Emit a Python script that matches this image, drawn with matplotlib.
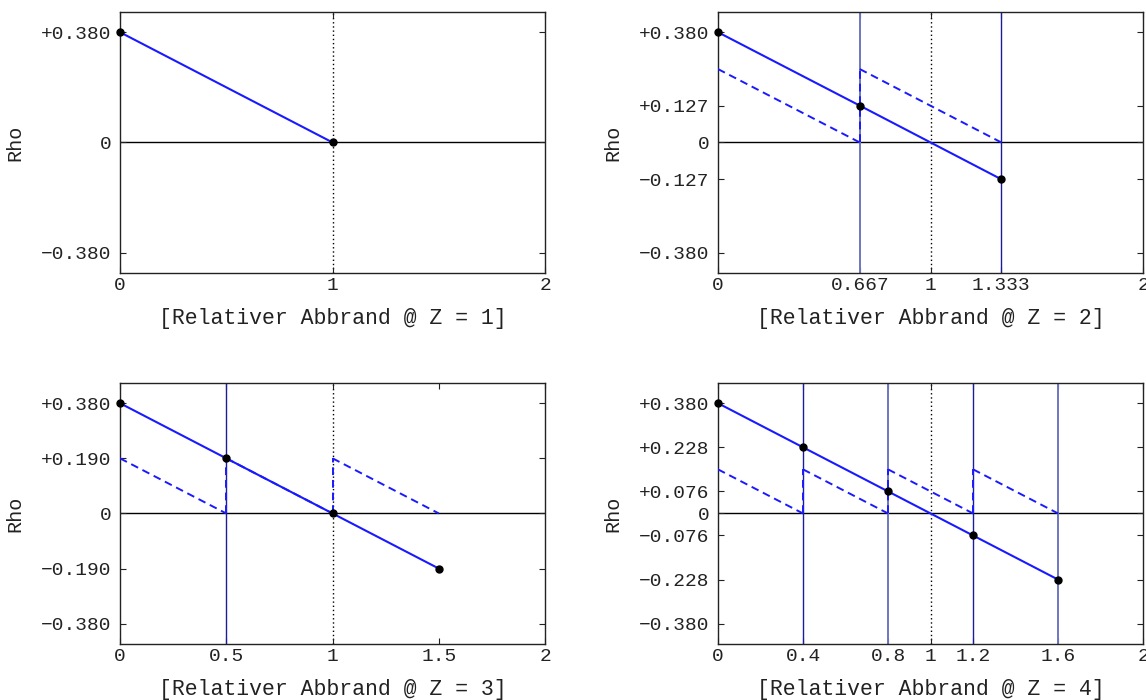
import matplotlib
matplotlib.use("Agg")
import matplotlib.pyplot as plt

plt.rcParams['font.family'] = ['Liberation Mono', 'DejaVu Sans Mono']

# panel data (Z = number of batches)
z_values = [1, 2, 3, 4]
xs = {
    1: [0, 1.0],
    2: [0, 0.667, 1.333],
    3: [0, 0.5, 1.0, 1.5],
    4: [0, 0.4, 0.8, 1.2, 1.6],
}
rhos = {
    1: [0.38, 0.0],
    2: [0.38, 0.127, -0.127],
    3: [0.38, 0.19, 0.0, -0.19],
    4: [0.38, 0.228, 0.076, -0.076, -0.228],
}
# height of the dashed sawtooth (single batch reactivity)
step_height = {1: 0.38, 2: 0.253, 3: 0.19, 4: 0.152}
yticks = {
    1: [0.38, 0, -0.38],
    2: [0.38, 0.127, 0, -0.127, -0.38],
    3: [0.38, 0.19, 0, -0.19, -0.38],
    4: [0.38, 0.228, 0.076, 0, -0.076, -0.228, -0.38],
}
xticks = {
    1: [0, 1, 2],
    2: [0, 0.667, 1, 1.333, 2],
    3: [0, 0.5, 1, 1.5, 2],
    4: [0, 0.4, 0.8, 1, 1.2, 1.6, 2],
}
# vertical marker line shade: True = lighter blue
light_lines = {
    2: [True, False],
    3: [False, False],
    4: [False, True, False, True],
}

positions = {
    1: [0.1047, 0.61, 0.371, 0.373],
    2: [0.6265, 0.61, 0.371, 0.373],
    3: [0.1047, 0.08, 0.371, 0.373],
    4: [0.6265, 0.08, 0.371, 0.373],
}


def fmt_y(v):
    if v == 0:
        return "0"
    return "%+.3f" % v if v > 0 else "\u2212%.3f" % abs(v)


def fmt_x(v):
    if v == int(v):
        return str(int(v))
    return ("%.3f" % v).rstrip("0")


fig = plt.figure(figsize=(11.46, 7.0), dpi=100)

for z in z_values:
    ax = fig.add_axes(positions[z])
    x = xs[z]
    r = rhos[z]
    h = step_height[z]

    ax.axhline(0, color="black", lw=1.0, zorder=1)
    ax.axvline(1, color="black", lw=1.0, ls=(0, (1, 2)), zorder=1)

    if z > 1:
        for xv, light in zip(x[1:], light_lines[z]):
            if xv == 1.0:
                continue
            if light:
                ax.axvline(xv, color="#6e76c0", lw=1.4, zorder=2)
            else:
                ax.axvline(xv, color="#1c1c9c", lw=1.0, zorder=2)
        # dashed sawtooth
        for i in range(len(x) - 1):
            ax.plot([x[i], x[i + 1]], [h, 0], color="#1a1aff", lw=1.4,
                    ls=(0, (4, 2.5)), zorder=3)
            if i > 0:
                ax.plot([x[i], x[i]], [0, h], color="#1a1aff", lw=1.4,
                        ls=(0, (4, 2.5)), zorder=3)

    ax.plot(x, r, color="#1a1aff", lw=1.5, zorder=4)
    ax.plot(x, r, "o", color="black", ms=5, zorder=5, clip_on=False)

    ax.set_xlim(0, 2)
    ax.set_ylim(-0.45, 0.45)
    ax.set_xticks(xticks[z])
    ax.set_xticklabels([fmt_x(v) for v in xticks[z]])
    ax.set_yticks(yticks[z])
    ax.set_yticklabels([fmt_y(v) for v in yticks[z]])
    ax.tick_params(direction="in", length=4, width=0.8, labelsize=14,
                   colors="#222222", top=True, right=True)
    ax.tick_params(axis="x", pad=3)
    ax.tick_params(axis="y", pad=6)
    for s in ax.spines.values():
        s.set_linewidth(1.0)
        s.set_color("#222222")
    ax.set_xlabel("[Relativer Abbrand @ Z = %d]" % z, fontsize=15.5,
                  labelpad=10, color="#222222")
    ax.set_ylabel("Rho", fontsize=14.5, color="#222222", labelpad=12)

fig.savefig("out.png", dpi=100)
